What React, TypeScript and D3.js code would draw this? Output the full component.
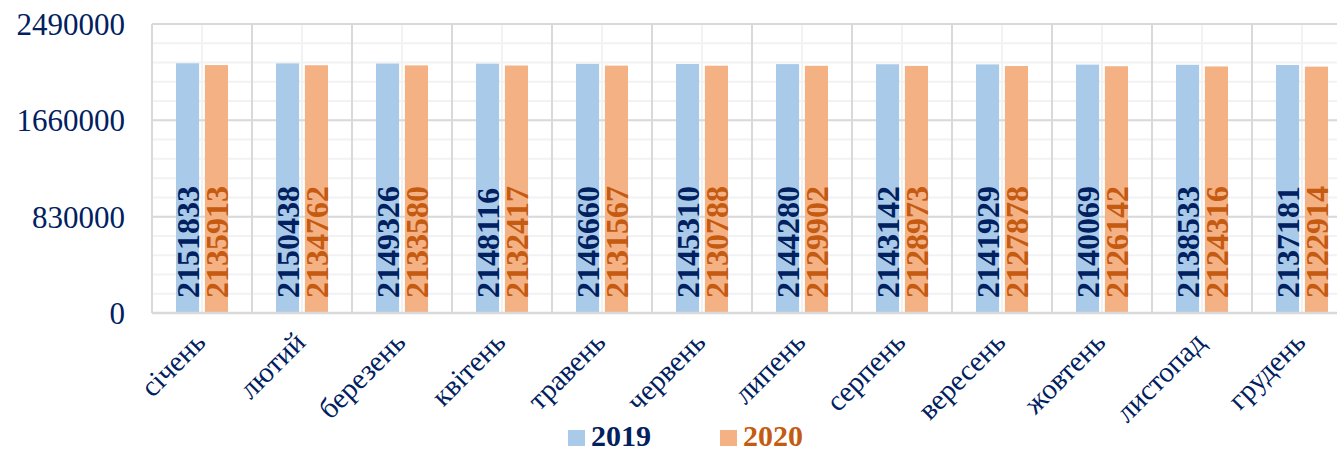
import React, { useEffect, useRef } from 'react';
import * as d3 from 'd3';

const months = ['січень', 'лютий', 'березень', 'квітень', 'травень', 'червень', 'липень', 'серпень', 'вересень', 'жовтень', 'листопад', 'грудень'];
const years = ['2019', '2020'];
const values2019 = [2151833, 2150438, 2149326, 2148116, 2146660, 2145310, 2144280, 2143142, 2141929, 2140069, 2138533, 2137181];
const values2020 = [2135913, 2134762, 2133580, 2132417, 2131567, 2130788, 2129902, 2128973, 2127878, 2126142, 2124316, 2122914];
const yTicks = [0, 830000, 1660000, 2490000];

const barColors = ['#a9cae8', '#f4b183'];
const textColors = ['#002060', '#c55a11'];

const App: React.FC = () => {
  const svgRef = useRef<SVGSVGElement>(null);

  useEffect(() => {
    if (!svgRef.current) return;
    const root = d3.select(svgRef.current);
    root.selectAll('*').remove();

    const margin = { top: 24, left: 152 };
    const width = 1200;
    const height = 289;
    const font = '"Liberation Serif", "Times New Roman", serif';

    const svg = root.append('g').attr('transform', `translate(${margin.left},${margin.top})`);

    const x = d3.scaleBand().domain(months).range([0, width]).padding(0);
    const xInner = d3.scaleBand().domain(years).range([24, 76]).paddingInner(0.2);
    const y = d3.scaleLinear().domain([0, 2490000]).range([height, 0]);

    // дрібна сітка
    const minor = d3.range(0, 2490001, 166000);
    svg.selectAll('.hminor').data(minor).enter().append('line')
      .attr('x1', 0).attr('x2', width)
      .attr('y1', (d) => y(d)).attr('y2', (d) => y(d))
      .attr('stroke', '#f2f2f2').attr('stroke-width', 2);
    svg.selectAll('.vminor').data(months).enter().append('line')
      .attr('x1', (d) => (x(d) || 0) + x.bandwidth() / 2).attr('x2', (d) => (x(d) || 0) + x.bandwidth() / 2)
      .attr('y1', 0).attr('y2', height)
      .attr('stroke', '#f2f2f2').attr('stroke-width', 2);

    // основна сітка
    svg.selectAll('.hmajor').data(yTicks).enter().append('line')
      .attr('x1', 0).attr('x2', width)
      .attr('y1', (d) => y(d)).attr('y2', (d) => y(d))
      .attr('stroke', '#d9d9d9').attr('stroke-width', 2);
    svg.selectAll('.vmajor').data(months).enter().append('line')
      .attr('x1', (d) => x(d) || 0).attr('x2', (d) => x(d) || 0)
      .attr('y1', 0).attr('y2', height)
      .attr('stroke', '#d9d9d9').attr('stroke-width', 2);

    // стовпці та підписи значень
    const series = [values2019, values2020];
    series.forEach((vals, si) => {
      const g = svg.append('g');
      g.selectAll('rect').data(vals).enter().append('rect')
        .attr('x', (d, i) => (x(months[i]) || 0) + (xInner(years[si]) || 0))
        .attr('y', (d) => y(d))
        .attr('width', xInner.bandwidth())
        .attr('height', (d) => height - y(d))
        .attr('fill', barColors[si]);

      g.selectAll('text').data(vals).enter().append('text')
        .attr('transform', (d, i) => {
          const cx = (x(months[i]) || 0) + (xInner(years[si]) || 0) + xInner.bandwidth() / 2 + 11.5;
          return `translate(${cx},${height - 15}) rotate(-90)`;
        })
        .attr('font-family', font)
        .attr('font-weight', 'bold')
        .attr('font-size', 32)
        .attr('fill', textColors[si])
        .text((d) => String(d));
    });

    // нижня вісь
    svg.append('line')
      .attr('x1', 0).attr('x2', width)
      .attr('y1', height).attr('y2', height)
      .attr('stroke', '#d9d9d9').attr('stroke-width', 2.5);

    // підписи осі Y
    svg.selectAll('.ylab').data(yTicks).enter().append('text')
      .attr('x', -27)
      .attr('y', (d) => y(d))
      .attr('dy', '0.35em')
      .attr('text-anchor', 'end')
      .attr('font-family', font)
      .attr('font-size', 31)
      .attr('fill', '#002060')
      .text((d) => String(d));

    // підписи місяців
    svg.selectAll('.xlab').data(months).enter().append('text')
      .attr('transform', (d) => `translate(${(x(d) || 0) + x.bandwidth() / 2 + 5},${height + 31}) rotate(-45)`)
      .attr('text-anchor', 'end')
      .attr('font-family', font)
      .attr('font-size', 29)
      .attr('fill', '#002060')
      .text((d) => d);

    // легенда
    const legendX = [568, 720];
    years.forEach((yr, i) => {
      root.append('rect')
        .attr('x', legendX[i]).attr('y', 430)
        .attr('width', 17).attr('height', 16)
        .attr('fill', barColors[i]);
      root.append('text')
        .attr('x', legendX[i] + 23).attr('y', 446)
        .attr('font-family', font)
        .attr('font-weight', 'bold')
        .attr('font-size', 30)
        .attr('fill', textColors[i])
        .text(yr);
    });
  }, []);

  return (
    <div style={{ position: 'fixed', left: 0, top: 0, width: 1337, height: 451, overflow: 'hidden', background: '#fff' }}>
      <svg ref={svgRef} width={1337} height={451}></svg>
    </div>
  );
};

export default App;
